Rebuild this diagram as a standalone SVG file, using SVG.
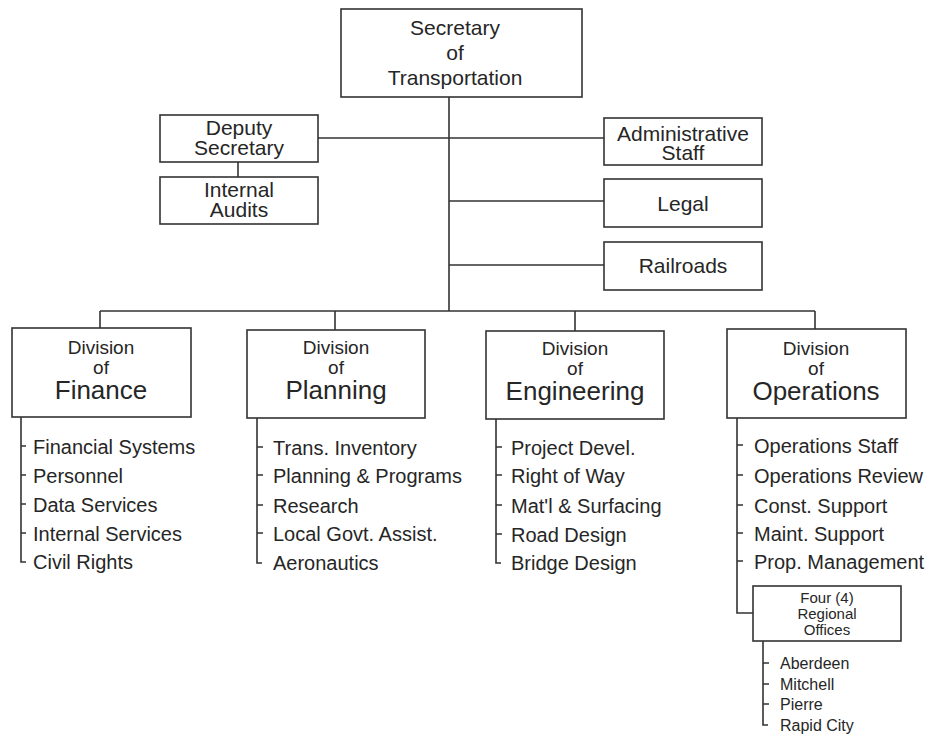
<svg xmlns="http://www.w3.org/2000/svg" width="932" height="736" viewBox="0 0 932 736">
<style>
text{font-family:"Liberation Sans",Arial,sans-serif;fill:#262626}
.c{text-anchor:middle}
.box{fill:#fff;stroke:#333;stroke-width:1.6}
.ln{fill:none;stroke:#333;stroke-width:1.6}
.t21{font-size:21px}
.dv{font-size:19px}
.big{font-size:26px}
.it{font-size:20px}
.sm{font-size:15px}
.ct{font-size:16px}
</style>
<rect width="932" height="736" fill="#fff"/>
<g id="connectors" class="ln">
<path d="M449 97V311"/>
<path d="M318 138H604"/>
<path d="M449 201H604"/>
<path d="M449 265H604"/>
<path d="M238 162V177"/>
<path d="M100 311H815"/>
<path d="M100 311V328M335 311V330M575 311V331M815 311V329"/>
<path d="M21 417V562H26M21 446H26M21 475H26M21 504H26M21 533H26"/>
<path d="M257 418V563H262M257 447H263M257 475H263M257 505H263M257 533H263"/>
<path d="M496 419V563H501M496 447H502M496 475H502M496 505H502M496 534H502"/>
<path d="M737 418V613H753M737 445H743M737 475H743M737 505H743M737 533H743M737 561H743"/>
<path d="M763 641V725H768M763 663H769M763 684H769M763 704H769"/>
</g>
<g id="secretary">
<rect class="box" x="341" y="9" width="241" height="88"/>
<text class="c t21" x="455" y="35">Secretary</text>
<text class="c t21" x="455" y="60">of</text>
<text class="c t21" x="455" y="85">Transportation</text>
</g>
<g id="deputy">
<rect class="box" x="160" y="115" width="158" height="47"/>
<text class="c t21" x="239" y="135">Deputy</text>
<text class="c t21" x="239" y="155">Secretary</text>
</g>
<g id="audits">
<rect class="box" x="160" y="177" width="158" height="47"/>
<text class="c t21" x="239" y="197">Internal</text>
<text class="c t21" x="239" y="217">Audits</text>
</g>
<g id="admin">
<rect class="box" x="604" y="118" width="158" height="47"/>
<text class="c t21" x="683" y="141">Administrative</text>
<text class="c t21" x="683" y="160">Staff</text>
</g>
<g id="legal">
<rect class="box" x="604" y="179" width="158" height="48"/>
<text class="c t21" x="683" y="211">Legal</text>
</g>
<g id="railroads">
<rect class="box" x="604" y="242" width="158" height="48"/>
<text class="c t21" x="683" y="273">Railroads</text>
</g>
<g id="finance">
<rect class="box" x="12" y="328" width="179" height="89"/>
<text class="c dv" x="101" y="354">Division</text>
<text class="c dv" x="101" y="374">of</text>
<text class="c big" x="101" y="399">Finance</text>
<text class="it" x="33" y="454">Financial Systems</text>
<text class="it" x="33" y="483">Personnel</text>
<text class="it" x="33" y="512">Data Services</text>
<text class="it" x="33" y="541">Internal Services</text>
<text class="it" x="33" y="569">Civil Rights</text>
</g>
<g id="planning">
<rect class="box" x="247" y="330" width="178" height="88"/>
<text class="c dv" x="336" y="354">Division</text>
<text class="c dv" x="336" y="374">of</text>
<text class="c big" x="336" y="399">Planning</text>
<text class="it" x="273" y="455">Trans. Inventory</text>
<text class="it" x="273" y="483">Planning &amp; Programs</text>
<text class="it" x="273" y="513">Research</text>
<text class="it" x="273" y="541">Local Govt. Assist.</text>
<text class="it" x="273" y="570">Aeronautics</text>
</g>
<g id="engineering">
<rect class="box" x="486" y="331" width="178" height="88"/>
<text class="c dv" x="575" y="355">Division</text>
<text class="c dv" x="575" y="375">of</text>
<text class="c big" x="575" y="400">Engineering</text>
<text class="it" x="511" y="455">Project Devel.</text>
<text class="it" x="511" y="483">Right of Way</text>
<text class="it" x="511" y="513">Mat'l &amp; Surfacing</text>
<text class="it" x="511" y="542">Road Design</text>
<text class="it" x="511" y="570">Bridge Design</text>
</g>
<g id="operations">
<rect class="box" x="727" y="329" width="179" height="89"/>
<text class="c dv" x="816" y="355">Division</text>
<text class="c dv" x="816" y="375">of</text>
<text class="c big" x="816" y="400">Operations</text>
<text class="it" x="754" y="453">Operations Staff</text>
<text class="it" x="754" y="483">Operations Review</text>
<text class="it" x="754" y="513">Const. Support</text>
<text class="it" x="754" y="541">Maint. Support</text>
<text class="it" x="754" y="569">Prop. Management</text>
</g>
<g id="regional">
<rect class="box" x="753" y="586" width="148" height="55"/>
<text class="c sm" x="827" y="603">Four (4)</text>
<text class="c sm" x="827" y="619">Regional</text>
<text class="c sm" x="827" y="635">Offices</text>
<text class="ct" x="780" y="669">Aberdeen</text>
<text class="ct" x="780" y="690">Mitchell</text>
<text class="ct" x="780" y="710">Pierre</text>
<text class="ct" x="780" y="731">Rapid City</text>
</g>
</svg>
